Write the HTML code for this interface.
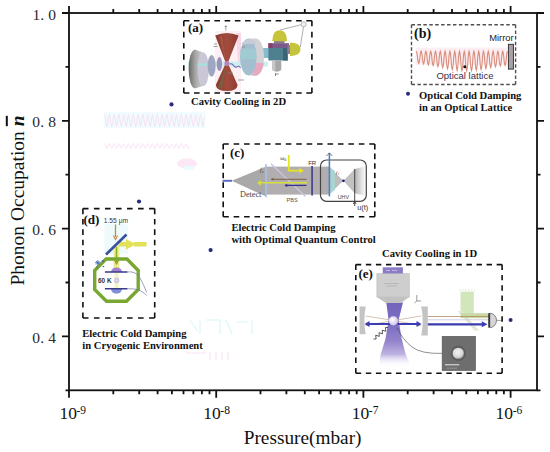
<!DOCTYPE html>
<html><head><meta charset="utf-8">
<style>
html,body{margin:0;padding:0;background:#fff;}
body{width:550px;height:452px;overflow:hidden;}
svg{display:block;}
.serif{font-family:"Liberation Serif",serif;}
.sans{font-family:"Liberation Sans",sans-serif;}
</style></head><body>
<svg width="550" height="452" viewBox="0 0 550 452">
<defs>
<linearGradient id="gBeamE" x1="0" y1="0" x2="0" y2="1">
<stop offset="0" stop-color="#7464bc"/><stop offset="0.35" stop-color="#7d6dc2"/><stop offset="0.6" stop-color="#9484cc"/><stop offset="0.8" stop-color="#bdb2e2"/><stop offset="1" stop-color="#ffffff" stop-opacity="0"/>
</linearGradient>
<linearGradient id="gFadeC" x1="0" y1="0" x2="1" y2="0">
<stop offset="0" stop-color="#b4b4b4"/><stop offset="1" stop-color="#ffffff"/>
</linearGradient>
<radialGradient id="gSphere" cx="0.4" cy="0.4" r="0.6">
<stop offset="0" stop-color="#ffffff"/><stop offset="1" stop-color="#cfc6e6"/>
</radialGradient>
<radialGradient id="gSem" cx="0.45" cy="0.4" r="0.6">
<stop offset="0" stop-color="#f4f4f4"/><stop offset="0.7" stop-color="#d8d8d8"/><stop offset="1" stop-color="#9a9a9a"/>
</radialGradient>
<linearGradient id="gRed" x1="0" y1="0" x2="1" y2="0">
<stop offset="0" stop-color="#86382e"/><stop offset="0.5" stop-color="#a24c3e"/><stop offset="1" stop-color="#8c3c32"/>
</linearGradient>
<linearGradient id="gDiskL" gradientUnits="userSpaceOnUse" x1="189" y1="0" x2="203" y2="0">
<stop offset="0" stop-color="#6c6c6c"/><stop offset="0.45" stop-color="#a6a6a6"/><stop offset="1" stop-color="#d2d2d2"/>
</linearGradient>
</defs>
<rect width="550" height="452" fill="#fff"/>
<!-- faint ghost artifacts -->
<g opacity="0.5">
<rect x="104" y="112" width="101" height="16" fill="#e2fafd"/>
<path d="M104.5 114.5L105.3 117.5L106.1 123.5L106.9 126.5L107.7 123.5L108.5 117.5L109.3 114.5L110.1 117.5L110.9 123.5L111.7 126.5L112.5 123.5L113.3 117.5L114.1 114.5L114.9 117.5L115.7 123.5L116.5 126.5L117.3 123.5L118.1 117.5L118.9 114.5L119.7 117.5L120.5 123.5L121.3 126.5L122.1 123.5L122.9 117.5L123.7 114.5L124.5 117.5L125.3 123.5L126.1 126.5L126.9 123.5L127.7 117.5L128.5 114.5L129.3 117.5L130.1 123.5L130.9 126.5L131.7 123.5L132.5 117.5L133.3 114.5L134.1 117.5L134.9 123.5L135.7 126.5L136.5 123.5L137.3 117.5L138.1 114.5L138.9 117.5L139.7 123.5L140.5 126.5L141.3 123.5L142.1 117.5L142.9 114.5L143.7 117.5L144.5 123.5L145.3 126.5L146.1 123.5L146.9 117.5L147.7 114.5L148.5 117.5L149.3 123.5L150.1 126.5L150.9 123.5L151.7 117.5L152.5 114.5L153.3 117.5L154.1 123.5L154.9 126.5L155.7 123.5L156.5 117.5L157.3 114.5L158.1 117.5L158.9 123.5L159.7 126.5L160.5 123.5L161.3 117.5L162.1 114.5L162.9 117.5L163.7 123.5L164.5 126.5L165.3 123.5L166.1 117.5L166.9 114.5L167.7 117.5L168.5 123.5L169.3 126.5L170.1 123.5L170.9 117.5L171.7 114.5L172.5 117.5L173.3 123.5L174.1 126.5L174.9 123.5L175.7 117.5L176.5 114.5L177.3 117.5L178.1 123.5L178.9 126.5L179.7 123.5L180.5 117.5L181.3 114.5L182.1 117.5L182.9 123.5L183.7 126.5L184.5 123.5L185.3 117.5L186.1 114.5L186.9 117.5L187.7 123.5L188.5 126.5L189.3 123.5L190.1 117.5L190.9 114.5L191.7 117.5L192.5 123.5L193.3 126.5L194.1 123.5L194.9 117.5L195.7 114.5L196.5 117.5L197.3 123.5L198.1 126.5L198.9 123.5L199.7 117.5L200.5 114.5L201.3 117.5L202.1 123.5L202.9 126.5L203.7 123.5L204.5 117.5" stroke="#f4b6e4" stroke-width="0.8" fill="none"/>
<path d="M104.5 143.5L105.3 144.8L106.1 147.3L106.9 148.5L107.7 147.2L108.5 144.7L109.3 143.5L110.1 144.8L110.9 147.3L111.7 148.5L112.5 147.2L113.3 144.7L114.1 143.5L114.9 144.8L115.7 147.3L116.5 148.5L117.3 147.2L118.1 144.7L118.9 143.5L119.7 144.9L120.5 147.4L121.3 148.5L122.1 147.1L122.9 144.6L123.7 143.5L124.5 144.9L125.3 147.4L126.2 148.5L127.0 147.1L127.8 144.6L128.6 143.5L129.4 144.9L130.2 147.4L131.0 148.5L131.8 147.1L132.6 144.6L133.4 143.5L134.2 145.0L135.0 147.4L135.8 148.5L136.6 147.0L137.4 144.5L138.2 143.5L139.0 145.0L139.8 147.5L140.6 148.5L141.4 147.0L142.2 144.5L143.0 143.5L143.8 145.0L144.6 147.5L145.4 148.5L146.2 147.0L147.0 144.5L147.8 143.5L148.6 145.1L149.4 147.5L150.2 148.5L151.0 146.9L151.8 144.4L152.6 143.5L153.4 145.1L154.2 147.6L155.0 148.5L155.8 146.9L156.6 144.4L157.4 143.5L158.2 145.1L159.0 147.6L159.8 148.5L160.6 146.9L161.4 144.4L162.2 143.5L163.0 145.2L163.8 147.6L164.6 148.5L165.4 146.8L166.2 144.4L167.0 143.5L167.8 145.2L168.7 147.7L169.5 148.5L170.3 146.8L171.1 144.3L171.9 143.6L172.7 145.2L173.5 147.7L174.3 148.4L175.1 146.8L175.9 144.3L176.7 143.6L177.5 145.3L178.3 147.7L179.1 148.4L179.9 146.7L180.7 144.3L181.5 143.6L182.3 145.3L183.1 147.7L183.9 148.4L184.7 146.7L185.5 144.3L186.3 143.6L187.1 145.3L187.9 147.8L188.7 148.4L189.5 146.6" stroke="#f6bfe8" stroke-width="0.8" fill="none"/>
<ellipse cx="187" cy="163.5" rx="10" ry="5" fill="#f8d0ec"/>
<rect x="184" y="166" width="10" height="4" fill="#d8f6fa"/>
<path d="M190 320 l8 12 M200 320 v14 M206 320 h14 v14 M226 320 l6 14 M236 322 h12 M252 320 v14" stroke="#b8f0f8" stroke-width="1.2" fill="none"/>
<path d="M186 353 h20 M210 352 v8 M216 352 v8 M222 352 v8 M228 352 v8" stroke="#f4c4ec" stroke-width="1" fill="none"/>
</g>

<!-- ===== inset (a) : cavity cooling 2D ===== -->
<g>
<rect x="215" y="31" width="26" height="62" fill="#fdf0f5"/>
<path d="M236 33 h5 v30 h-3 z" fill="#f8d6e4"/>
<rect x="188" y="61.5" width="80" height="5" fill="#bfeeee" opacity="0.8"/>
<!-- left thick disk -->
<ellipse cx="195" cy="69" rx="6.4" ry="19.3" fill="url(#gDiskL)"/>
<path d="M195 49.7 L203.2 52.5 L203.2 86.1 L195 88.3 Z" fill="url(#gDiskL)"/>
<ellipse cx="203.2" cy="69.3" rx="5.7" ry="16.8" fill="#cbc7d6"/>
<path d="M197.6 63.6 Q203 63 208.8 63.6 L208.8 65.8 Q203 65.2 197.6 65.8 Z" fill="#9ee6e0" opacity="0.9"/>
<ellipse cx="211.6" cy="65.9" rx="4" ry="10.9" fill="#9ea6c2"/>
<ellipse cx="219.4" cy="64.1" rx="2.7" ry="7" fill="#9a93ba"/>
<!-- red hourglass -->
<path d="M215.2 35.5 Q227 30.5 238.6 35.5 L227.8 63 L237.6 85 Q237 91 227 91 Q216.5 91 215.8 85 L225.8 63 Z" fill="url(#gRed)"/>
<path d="M219 36 L226 62 L222 36 Z" fill="#b06048" opacity="0.6"/>
<path d="M218 88 L226 66 L222 89 Z" fill="#5f7a48" opacity="0.5"/>
<circle cx="227" cy="63.5" r="2.6" fill="#b784b8"/>
<!-- right thick disk -->
<rect x="262" y="48" width="9" height="10" fill="#86bccb"/>
<ellipse cx="255.5" cy="57" rx="8.6" ry="18.6" fill="#d2d2d6"/>
<rect x="248" y="38.5" width="7.5" height="37" fill="#d2d2d6"/>
<path d="M256 63 L263.8 63 Q263 72 257 75.5 L252 75.5 Z" fill="#e6a9bf"/>
<ellipse cx="248.3" cy="57" rx="8.3" ry="18.3" fill="#a3bfcf"/>
<path d="M240.5 50 Q248 47 256 50 L256 60 Q248 58 240.3 60 Z" fill="#9fd0d4" opacity="0.7"/>
<path d="M241 44 Q246 38.8 250 38.9 Q254 40 256 44 Z" fill="#c6ccd6"/>
<!-- trap block -->
<rect x="274" y="39.5" width="10.5" height="4" fill="#8a7a90"/>
<path d="M272.3 41.3 Q272.3 30.3 279.6 30.3 Q287 30.3 287 41.3 Z" fill="#c6c43a"/>
<rect x="268.4" y="43.2" width="20.6" height="5" fill="#7a5a88"/>
<rect x="268.4" y="43.2" width="4" height="5" fill="#8a3d6c"/>
<rect x="268.4" y="48" width="19.3" height="12.5" fill="#4f8090"/>
<rect x="283" y="48" width="4.7" height="12.5" fill="#3d6474"/>
<rect x="287.5" y="45" width="3" height="9" fill="#8c7c96"/>
<path d="M290 42.5 Q300.5 42.5 300.5 49.3 Q300.5 56 290 56 Z" fill="#c6c43a"/>
<path d="M272.3 60.5 H281.3 V70 Q276.8 73.5 272.3 70 Z" fill="#a8a8a8"/>
<rect x="272.3" y="60.5" width="3" height="10" fill="#c8c8c8"/>
<path d="M280 30 L302 24.5 M303.5 27 L300.2 47.5" stroke="#777" stroke-width="0.6" fill="none"/>
<circle cx="303.7" cy="24.3" r="2.6" fill="#eee" stroke="#999" stroke-width="0.6"/>
<path d="M275.5 73 v3" stroke="#a04040" stroke-width="0.8"/>
<!-- tiny labels -->
<path d="M214 44 h3 M213.5 46.5 h4 M225.8 25.5 v5 M224.6 26.5 h2.4 M228 73 h5 M238 80 h6 M242 47 h3 M276 74 h3" stroke="#888" stroke-width="0.8"/>
<path d="M230 64 q2 -1 3.5 1.5 t3.5 1.2 t3.5 1.2" stroke="#6a6ab8" stroke-width="1.1" fill="none"/>
</g>

<!-- ===== inset (b) : optical lattice ===== -->
<g>
<rect x="415.6" y="47.6" width="92" height="17.2" fill="#fdeef3"/>
<path d="M416.3 51.3L416.8 52.4L417.3 55.4L417.7 59.2L418.2 62.2L418.7 63.4L419.2 62.3L419.7 59.3L420.1 55.5L420.6 52.5L421.1 51.3L421.6 52.5L422.1 55.6L422.5 59.5L423.0 62.7L423.5 64.0L424.0 62.9L424.5 59.7L424.9 55.8L425.4 52.5L425.9 51.3L426.4 52.6L426.9 55.9L427.3 60.0L427.8 63.4L428.3 64.8L428.8 63.5L429.3 60.2L429.7 56.0L430.2 52.6L430.7 51.3L431.2 52.6L431.7 56.2L432.1 60.6L432.6 64.2L433.1 65.6L433.6 64.4L434.1 60.8L434.5 56.4L435.0 52.7L435.5 51.3L436.0 52.7L436.5 56.5L436.9 61.2L437.4 65.1L437.9 66.6L438.4 65.3L438.9 61.5L439.3 56.7L439.8 52.8L440.3 51.3L440.8 52.8L441.3 56.8L441.7 61.9L442.2 66.0L442.7 67.7L443.2 66.2L443.7 62.1L444.1 57.1L444.6 52.9L445.1 51.3L445.6 52.9L446.1 57.2L446.5 62.5L447.0 66.9L447.5 68.7L448.0 67.1L448.5 62.8L448.9 57.4L449.4 53.0L449.9 51.3L450.4 53.0L450.9 57.5L451.3 63.2L451.8 67.8L452.3 69.6L452.8 67.9L453.3 63.4L453.7 57.7L454.2 53.1L454.7 51.3L455.2 53.1L455.7 57.8L456.1 63.6L456.6 68.4L457.1 70.3L457.6 68.5L458.1 63.8L458.5 57.9L459.0 53.1L459.5 51.3L460.0 53.1L460.5 58.0L460.9 64.0L461.4 68.8L461.9 70.7L462.4 68.9L462.9 64.0L463.3 58.0L463.8 53.2L464.3 51.3L464.8 53.2L465.3 58.0L465.7 64.1L466.2 68.9L466.7 70.8L467.2 68.9L467.7 64.0L468.1 58.0L468.6 53.2L469.1 51.3L469.6 53.2L470.1 58.0L470.5 64.0L471.0 68.8L471.5 70.6L472.0 68.7L472.5 63.9L472.9 57.9L473.4 53.1L473.9 51.3L474.4 53.1L474.9 57.8L475.3 63.7L475.8 68.3L476.3 70.1L476.8 68.2L477.3 63.5L477.7 57.7L478.2 53.1L478.7 51.3L479.2 53.1L479.7 57.6L480.1 63.2L480.6 67.7L481.1 69.4L481.6 67.6L482.1 63.0L482.5 57.5L483.0 53.0L483.5 51.3L484.0 53.0L484.5 57.3L484.9 62.7L485.4 66.9L485.9 68.5L486.4 66.8L486.9 62.4L487.3 57.2L487.8 52.9L488.3 51.3L488.8 52.9L489.3 57.0L489.7 62.1L490.2 66.1L490.7 67.6L491.2 66.0L491.7 61.9L492.1 56.9L492.6 52.8L493.1 51.3L493.6 52.8L494.1 56.7L494.5 61.5L495.0 65.4L495.5 66.8L496.0 65.2L496.5 61.3L496.9 56.6L497.4 52.7L497.9 51.3L498.4 52.7L498.9 56.5L499.3 61.0L499.8 64.7L500.3 66.0L500.8 64.6L501.3 60.9L501.7 56.3L502.2 52.7L502.7 51.3L503.2 52.7L503.7 56.2L504.1 60.6L504.6 64.1L505.1 65.4L505.6 64.0L506.1 60.5L506.5 56.1L507.0 52.6L507.5 51.3" stroke="#d88e7a" stroke-width="1.1" fill="none"/>
<rect x="508.4" y="44.3" width="5" height="24.8" fill="#a89fa8" stroke="#2a2a2a" stroke-width="0.9"/>
<circle cx="464.8" cy="66.8" r="1.5" fill="#111"/>
<text class="sans" x="436.4" y="79.1" font-size="9.5" fill="#3c2c48">Optical lattice</text>
<text class="sans" x="489.2" y="40.6" font-size="9.4" fill="#222">Mirror</text>
</g>

<!-- ===== inset (c) : electric cold damping, optimal control ===== -->
<g>
<path d="M222.5 180.8 H232" stroke="#5b6cc2" stroke-width="2"/>
<path d="M231.7 180.8 L266 166.6 V196.5 Z" fill="#a9a9a9"/>
<rect x="265.5" y="166.6" width="63.5" height="28" fill="#b2aeb0"/>
<path d="M266 164 V197.3" stroke="#a9c0e6" stroke-width="1.6"/>
<path d="M271 163.8 L305.4 196.5" stroke="#c9c6e4" stroke-width="1.3"/>
<path d="M288.8 155 V170.7 H302" stroke="#e6e61e" stroke-width="1.8" fill="none"/>
<path d="M304 170.7 L299.3 168 L299.3 173.4 Z" fill="#e6e61e"/>
<path d="M258 182.7 H307" stroke="#d6e03c" stroke-width="1.6"/>
<path d="M258 182.8 l3 -2 m-3 2 l3 2" stroke="#d6e03c" stroke-width="1.4" fill="none"/>
<path d="M271 179.3 H306.5" stroke="#7c6040" stroke-width="1"/><path d="M271 179.3 l2.5 -1.5 v3 z" fill="#7c6040"/>
<path d="M285 185.4 H306.5" stroke="#343488" stroke-width="1.3"/><path d="M284.4 185.4 l2.8 -1.7 v3.4 z" fill="#343488"/>
<path d="M312.1 166 V195.4" stroke="#4a4a8a" stroke-width="1.8"/>
<!-- UHV chamber -->
<path d="M329.4 167 L343.4 180.8 L329.4 194 Z" fill="#bdbdbd"/>
<path d="M329.4 167 V194 L335 190 V171 Z" fill="#a8d6d2" opacity="0.9"/>
<path d="M343.4 180.8 L354.7 169 V193.2 Z" fill="#c2c2c2"/>
<path d="M354.7 169 L366 166 V196 L354.7 193.2 Z" fill="url(#gFadeC)"/>
<rect x="320.5" y="160" width="45.8" height="41.3" rx="6" ry="6" fill="none" stroke="#444" stroke-width="1.2"/>
<path d="M329.4 152.9 V196.4" stroke="#4f80c4" stroke-width="1.6"/>
<path d="M326.5 156 L329.4 152.9 L332.3 156" stroke="#555" stroke-width="0.8" fill="none"/>
<circle cx="343.4" cy="180.8" r="1.4" fill="#24246e"/>
<path d="M354.7 169 V206" stroke="#333" stroke-width="0.9"/>
<path d="M353.2 204 L354.7 201.5 L356.2 204" stroke="#333" stroke-width="0.8" fill="none"/>
<text class="serif" x="240" y="197.3" font-size="8.2" fill="#444">Detect</text>
<text class="sans" x="286.5" y="201.5" font-size="5.6" fill="#555">PBS</text>
<text class="sans" x="308.2" y="164.5" font-size="6" fill="#333">FR</text>
<text class="sans" x="337.8" y="198.9" font-size="5.3" fill="#444">UHV</text>
<text class="sans" x="357.2" y="209.6" font-size="7.4" fill="#333">u(t)</text>
<text class="serif" x="260" y="172.3" font-size="5.5" font-style="italic" fill="#333">f₂</text>
<text class="serif" x="336" y="173.8" font-size="5" font-style="italic" fill="#333">f₁</text>
<text class="serif" x="280.3" y="160.3" font-size="6" fill="#333">ω<tspan font-size="4" dy="1">0</tspan></text>
</g>

<!-- ===== inset (d) : cryogenic ===== -->
<g>
<rect x="104.5" y="224" width="23.5" height="30" fill="#eefafb"/>
<rect x="113.4" y="245" width="6" height="23" fill="#ecf08a"/>
<rect x="114.5" y="272" width="4" height="17" fill="#f4f4c4"/>
<text class="sans" x="103.8" y="222.9" font-size="6.7" fill="#333">1.55 μm</text>
<path d="M115.5 224.5 V237" stroke="#c58a48" stroke-width="1.3"/>
<path d="M113.4 235.5 L115.5 239.5 L117.6 235.5" stroke="#c58a48" stroke-width="1.1" fill="none"/>
<path d="M119 242 H126 V239 L134 243.2 V242 H146.5 V246.5 H134 V245.2 L126 249.8 V246.5 H119 Z" fill="#e2e25a"/>
<path d="M106 254.5 L126.5 234.5" stroke="#3a4fa0" stroke-width="2.6"/>
<path d="M116.5 247 V262" stroke="#86ac2e" stroke-width="1.5"/>
<path d="M114.4 260 L116.5 264 L118.6 260" stroke="#9a8a3a" stroke-width="1.1" fill="none"/>
<path d="M106 259 H127 L138.2 270.5 V289.5 L126.5 301.2 H106.5 L94.7 289.5 V270.5 Z" fill="none" stroke="#78a832" stroke-width="3.4" stroke-linejoin="miter"/>
<path d="M111 271.9 A5.5 4.5 0 0 1 122 271.9 Z" fill="#a080d0"/>
<path d="M111 288.8 A5.5 5 0 0 0 122 288.8 Z" fill="#8090d8"/>
<path d="M104.9 271.9 H127.5 M104.9 288.8 H127.5" stroke="#3a3a8a" stroke-width="1.5"/>
<circle cx="116.7" cy="280.4" r="2.3" fill="#ddd4f2" stroke="#a898d0" stroke-width="0.5"/>
<path d="M127.5 271.9 Q136 271 140 278 T146.6 292.5" stroke="#7878a0" stroke-width="0.7" fill="none"/>
<path d="M127.5 288.8 Q137 288.5 141 291 T146.6 295.5" stroke="#7878a0" stroke-width="0.7" fill="none"/>
<text class="sans" x="98" y="282.6" font-size="6.4" font-weight="bold" fill="#333">60 K</text>
<path d="M96 261 l3.5 3.5 M99.5 261 l-3.5 3.5 M97.75 260 v5.5 M95 262.75 h5.5" stroke="#3a62c0" stroke-width="0.8"/>
<path d="M102 260 l2 2 M104 260 l-2 2" stroke="#3a62c0" stroke-width="0.7"/>
<circle cx="103.5" cy="266.5" r="0.8" fill="#3a62c0"/>
<circle cx="97" cy="267" r="0.7" fill="#3a62c0"/>
</g>

<!-- ===== inset (e) : cavity cooling 1D ===== -->
<g>
<!-- green path -->
<rect x="460.5" y="291.6" width="13.3" height="22" fill="#d2e6bc"/>
<path d="M457.7 311 L462 311 L479 330.4 L474.5 330.4 Z" fill="#dfe9d6"/>
<rect x="460.5" y="313.2" width="28.2" height="5" fill="#c9d9a6"/>
<path d="M459 290 h16" stroke="#b8c8a8" stroke-width="0.6" stroke-dasharray="1.5 1.5"/>
<!-- purple beam -->
<path d="M386.3 302.5 L403 302.5 L398.6 320 L401.7 338.7 L405.6 354 L411 367 L378.5 367 L380.8 354 L385.5 338.7 L388.6 320 Z" fill="url(#gBeamE)"/>
<!-- objective -->
<rect x="382.7" y="267.3" width="20.2" height="6.6" fill="#8c7cc8"/>
<path d="M386 270.5 h4 M392 270.5 h5" stroke="#e8e4f4" stroke-width="0.6"/>
<rect x="376.9" y="273.7" width="32.4" height="23.4" fill="#cecece" stroke="#b0b0b0" stroke-width="0.5"/>
<path d="M376.9 297 H409.3 L400.8 302.9 H385.9 Z" fill="#c2c2c2"/>
<path d="M384 283.5 h15 M386 286 h11" stroke="#a8a8a8" stroke-width="0.6"/>
<!-- mirrors -->
<path d="M359.6 306.4 H365.7 Q363 320.4 365.7 334.3 H359.6 Z" fill="#c4c4c4"/>
<path d="M421.2 306.4 H427.8 V335.6 H421.2 Q424.2 321 421.2 306.4 Z" fill="#c4c4c4"/>
<!-- cavity lines -->
<path d="M365.7 316 L393.7 320.5 L421.2 316 M365.7 325.5 L393.7 320.5 L421.2 325.5" stroke="#b99a7a" stroke-width="0.6" fill="none"/>
<path d="M427.8 316.5 H488.5" stroke="#b08a62" stroke-width="0.8" fill="none"/><path d="M427.8 319.8 H488.5" stroke="#c8c0dc" stroke-width="0.8" fill="none"/>
<!-- arrows -->
<path d="M390 324 H367.5 M397.5 324 H418.5 M427.8 324.3 H483" stroke="#3d3db2" stroke-width="2.2" fill="none"/>
<path d="M364.5 324 L369.5 321 L369.5 327 Z M421.5 324 L416.5 321 L416.5 327 Z M487.5 324.3 L481.8 321.3 L481.8 327.3 Z" fill="#3d3db2"/>
<circle cx="393.4" cy="320.8" r="4.6" fill="url(#gSphere)"/>
<path d="M373.5 339.0L376.1 339.0L375.7 335.2L379.3 336.4L379.0 332.6L382.5 333.9L382.2 330.1L385.8 331.3L385.4 327.5L388.0 327.5" stroke="#333" stroke-width="0.8" fill="none"/>
<path d="M397 327.9 Q403 340 412 347 T442.2 353.4" stroke="#444" stroke-width="0.6" fill="none"/>
<!-- detector -->
<path d="M489.8 313.2 A6.7 7.2 0 0 1 489.8 327.6 Z" fill="#d6d6d6" stroke="#555" stroke-width="0.7"/>
<rect x="488.2" y="313.2" width="1.8" height="14.4" fill="#3a3a3a"/>
<path d="M496.5 320.4 H502" stroke="#666" stroke-width="0.6"/>
<!-- SEM inset -->
<rect x="442.2" y="336.4" width="33.2" height="34" fill="#6e6e6e" stroke="#555" stroke-width="0.7"/>
<circle cx="458.3" cy="353.4" r="7.6" fill="#5c5c5c"/>
<circle cx="458.3" cy="353.4" r="5.7" fill="url(#gSem)"/>
<path d="M445 364.8 H459.3" stroke="#e8e8e8" stroke-width="1"/>
<path d="M446.5 368.2 H457" stroke="#a0a0a0" stroke-width="0.7"/>
<!-- tiny axis icon -->
<path d="M416.8 295 V301 H421 M416.8 301 L414.5 303" stroke="#555" stroke-width="0.6" fill="none"/>
</g>

<!-- axes frame -->
<g stroke="#111" stroke-width="1.8" fill="none">
<rect x="69" y="13" width="468" height="377.3"/>
<path d="M69.0 390.3v7.4M69.0 13v-7M113.3 390.3v4M113.3 13v-4M139.2 390.3v4M139.2 13v-4M157.6 390.3v4M157.6 13v-4M171.9 390.3v4M171.9 13v-4M183.5 390.3v4M183.5 13v-4M193.4 390.3v4M193.4 13v-4M201.9 390.3v4M201.9 13v-4M209.5 390.3v4M209.5 13v-4M216.2 390.3v7.4M216.2 13v-7M260.5 390.3v4M260.5 13v-4M286.4 390.3v4M286.4 13v-4M304.8 390.3v4M304.8 13v-4M319.1 390.3v4M319.1 13v-4M330.7 390.3v4M330.7 13v-4M340.6 390.3v4M340.6 13v-4M349.1 390.3v4M349.1 13v-4M356.7 390.3v4M356.7 13v-4M363.4 390.3v7.4M363.4 13v-7M407.7 390.3v4M407.7 13v-4M433.6 390.3v4M433.6 13v-4M452.0 390.3v4M452.0 13v-4M466.3 390.3v4M466.3 13v-4M477.9 390.3v4M477.9 13v-4M487.8 390.3v4M487.8 13v-4M496.3 390.3v4M496.3 13v-4M503.9 390.3v4M503.9 13v-4M510.6 390.3v7.4M510.6 13v-7M69 390.3h-3.5M537 390.3h3.5M69 336.4h-7M537 336.4h7M69 282.5h-3.5M537 282.5h3.5M69 228.6h-7M537 228.6h7M69 174.7h-3.5M537 174.7h3.5M69 120.8h-7M537 120.8h7M69 66.9h-3.5M537 66.9h3.5M69 13.0h-7M537 13.0h7"/>
</g>

<!-- y tick labels -->
<g class="serif" font-size="15.5" fill="#2a2a2a">
<text x="32.6 40.3 48.3" y="19.5">1.0</text>
<text x="32.3 40.3 48.3" y="127">0.8</text>
<text x="32.3 40.3 48.3" y="235">0.6</text>
<text x="32.3 40.3 48.3" y="342.8">0.4</text>
</g>

<!-- x tick labels -->
<g class="serif" font-size="17.5" fill="#111">
<text x="59.4" y="418.8">10<tspan font-size="11.5" dx="-0.4" dy="-5.2">-9</tspan></text>
<text x="203.2" y="418.8">10<tspan font-size="11.5" dx="-0.4" dy="-5.2">-8</tspan></text>
<text x="351.7" y="418.8">10<tspan font-size="11.5" dx="-0.4" dy="-5.2">-7</tspan></text>
<text x="495.6" y="418.8">10<tspan font-size="11.5" dx="-0.4" dy="-5.2">-6</tspan></text>
</g>

<!-- axis titles -->
<text class="serif" x="243.7" y="443.6" font-size="19.3" fill="#111">Pressure(mbar)</text>
<g transform="translate(23.9,285.5) rotate(-90)">
<text class="serif" x="0" y="0" font-size="19.5" fill="#111">Phonon Occupation <tspan font-weight="bold" font-style="italic">n</tspan></text>
</g>
<rect x="5.8" y="115.8" width="2" height="10.4" fill="#111"/>

<!-- data points -->
<g fill="#2b2d7c">
<circle cx="171.5" cy="104.4" r="2.1"/>
<circle cx="139" cy="201.5" r="2.1"/>
<circle cx="210.6" cy="250.1" r="2.1"/>
<circle cx="408" cy="93.7" r="2"/>
<circle cx="510.6" cy="320.1" r="2"/>
</g>

<!-- dashed boxes -->
<g fill="none" stroke="#111" stroke-width="1.6">
<path d="M183.80 20.70L311.90 20.70" stroke-dasharray="5.60 4.61"/><path d="M311.90 20.70L311.90 93.00" stroke-dasharray="5.60 5.52"/><path d="M183.80 93.00L311.90 93.00" stroke-dasharray="5.60 4.61"/><path d="M183.80 20.70L183.80 93.00" stroke-dasharray="5.60 5.52"/><path d="M223.20 144.00L374.80 144.00" stroke-dasharray="5.60 4.83"/><path d="M374.80 144.00L374.80 216.70" stroke-dasharray="5.60 3.99"/><path d="M223.20 216.70L374.80 216.70" stroke-dasharray="5.60 4.83"/><path d="M223.20 144.00L223.20 216.70" stroke-dasharray="5.60 3.99"/><path d="M82.90 208.60L154.70 208.60" stroke-dasharray="5.60 5.43"/><path d="M154.70 208.60L154.70 318.00" stroke-dasharray="5.60 4.78"/><path d="M82.90 318.00L154.70 318.00" stroke-dasharray="5.60 5.43"/><path d="M82.90 208.60L82.90 318.00" stroke-dasharray="5.60 4.78"/><path d="M355.80 264.60L502.10 264.60" stroke-dasharray="5.40 4.66"/><path d="M502.10 264.60L502.10 373.30" stroke-dasharray="5.40 4.93"/><path d="M355.80 373.30L502.10 373.30" stroke-dasharray="5.40 4.66"/><path d="M355.80 264.60L355.80 373.30" stroke-dasharray="5.40 4.93"/>
</g>
<g fill="none" stroke="#505050" stroke-width="1.4"><path d="M411.50 24.80L515.60 24.80" stroke-dasharray="3.50 2.42"/><path d="M515.60 24.80L515.60 84.50" stroke-dasharray="3.50 2.12"/><path d="M411.50 84.50L515.60 84.50" stroke-dasharray="3.50 2.42"/><path d="M411.50 24.80L411.50 84.50" stroke-dasharray="3.50 2.12"/></g>

<!-- captions -->
<g class="serif" font-weight="bold" font-size="10.6" fill="#111">
<text x="191" y="105">Cavity Cooling in 2D</text>
<text x="419" y="99">Optical Cold Damping</text>
<text x="419" y="110.6">in an Optical Lattice</text>
<text x="231.4" y="231.1">Electric Cold Damping</text>
<text x="231.4" y="242.7">with Optimal Quantum Control</text>
<text x="82.3" y="337.3">Electric Cold Damping</text>
<text x="82.3" y="349.3">in Cryogenic Environment</text>
<text x="382" y="257.4">Cavity Cooling in 1D</text>
</g>

<!-- panel letters -->
<g class="serif" font-weight="bold" font-size="13" fill="#111">
<text x="188" y="32.2">(a)</text>
<text x="414" y="37.8" font-size="14">(b)</text>
<text x="230" y="157.3">(c)</text>
<text x="83.5" y="224">(d)</text>
<text x="358.5" y="278.2">(e)</text>
</g>

</svg>
</body></html>
